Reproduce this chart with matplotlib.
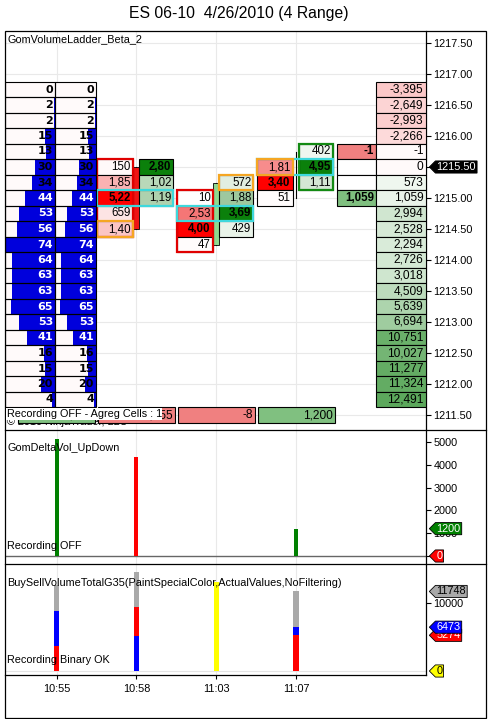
import numpy as np
import matplotlib
matplotlib.use("Agg")
import matplotlib.pyplot as plt
import matplotlib.transforms as mtransforms
from matplotlib.patches import Rectangle
from matplotlib.path import Path
from matplotlib.lines import Line2D
from matplotlib.ticker import FormatStrFormatter

plt.rcParams['font.family'] = ['Liberation Sans', 'DejaVu Sans']

# ---------------- data ----------------
TITLE = "ES 06-10  4/26/2010 (4 Range)"
bar_times = ["10:55", "10:58", "11:03", "11:07"]

ladder_prices = [1216.75, 1216.50, 1216.25, 1216.00, 1215.75, 1215.50, 1215.25,
                 1215.00, 1214.75, 1214.50, 1214.25, 1214.00, 1213.75, 1213.50,
                 1213.25, 1213.00, 1212.75, 1212.50, 1212.25, 1212.00, 1211.75]
ladder_vol_a = [0, 2, 2, 15, 13, 30, 34, 44, 53, 56, 74, 64, 63, 63, 65, 53, 41, 16, 15, 20, 4]
ladder_vol_b = [0, 2, 2, 15, 13, 30, 34, 44, 53, 56, 74, 64, 63, 63, 65, 53, 41, 16, 15, 20, 4]
ladder_cum_delta = [-3395, -2649, -2993, -2266, -1, 0, 573, 1059, 2994, 2528, 2294,
                    2726, 3018, 4509, 5639, 6694, 10751, 10027, 11277, 11324, 12491]

# footprint of visible bars
fp_bar_index = [1, 2, 3]
fp_sell_prices = [[1215.50, 1215.25, 1215.00, 1214.75, 1214.50],
                  [1215.00, 1214.75, 1214.50, 1214.25],
                  [1215.50, 1215.25, 1215.00]]
fp_sell_vol = [[150, 1850, 5220, 659, 1400],
               [10, 2530, 4000, 47],
               [1810, 3400, 51]]
fp_buy_prices = [[1215.50, 1215.25, 1215.00],
                 [1215.25, 1215.00, 1214.75, 1214.50],
                 [1215.75, 1215.50, 1215.25]]
fp_buy_vol = [[2800, 1020, 1190],
              [572, 1880, 3690, 429],
              [402, 4950, 1110]]
fp_open = [1215.50, 1214.25, 1215.50]
fp_high = [1215.50, 1215.25, 1215.75]
fp_low = [1214.50, 1214.25, 1215.00]
fp_close = [1214.50, 1215.25, 1215.50]
# highlighted groups: (side, top price, bottom price, colour)
fp_outline = [('sell', 1215.50, 1214.50, '#E00000'),
              ('sell', 1215.00, 1214.25, '#E00000'),
              ('buy', 1215.75, 1215.25, '#138A13')]

# current (forming) bar delta column
cur_prices = [1215.75, 1215.50, 1215.25, 1215.00]
cur_delta = [-1, 0, 0, 1059]

# per-bar values
bar_delta = [5130, -4355, -8, 1200]
bar_buy = [8820, 5100, 6596, 6473]
bar_sell = [3690, 9455, 6604, 5274]
bar_total = [12700, 14670, 13200, 11748]
bar_special = [False, False, True, False]
special_last = 0

# ---------------- layout ----------------
W, H = 488, 719
fig = plt.figure(figsize=(W / 100, H / 100), dpi=100)
fig.patch.set_facecolor('white')


def frect(x0, y0, x1, y1):
    return [x0 / W, 1 - y1 / H, (x1 - x0) / W, (y1 - y0) / H]


PANEL_L, PANEL_R = 5, 426
P1_TOP, P1_BOT = 31, 430
P2_TOP, P2_BOT = 430, 564
P3_TOP, P3_BOT = 564, 675

ax1 = fig.add_axes(frect(PANEL_L, P1_TOP, PANEL_R, P1_BOT))
ax2 = fig.add_axes(frect(PANEL_L, P2_TOP, PANEL_R, P2_BOT))
ax3 = fig.add_axes(frect(PANEL_L, P3_TOP, PANEL_R, P3_BOT))

BAR_PX, BAR0_PX = 79.8, 56.7


def dx(p):
    return p / BAR_PX


def xabs(p):
    return (p - BAR0_PX) / BAR_PX


XLIM = (xabs(PANEL_L), xabs(PANEL_R))
PRICE_REF, PRICE_REF_PX, PX_PER_PT = 1217.5, 43, 62
ax1.set_ylim(PRICE_REF - (P1_BOT - PRICE_REF_PX) / PX_PER_PT,
             PRICE_REF + (PRICE_REF_PX - P1_TOP) / PX_PER_PT)
ax2.set_ylim(-(P2_BOT - 556) / 0.0228, (556 - P2_TOP) / 0.0228)
ax3.set_ylim(-(P3_BOT - 671) / 0.00677, (671 - P3_TOP) / 0.00677)

GRID = '#E9E9E9'
FS = 7.8
for ax in (ax1, ax2, ax3):
    ax.set_xlim(*XLIM)
    ax.set_xticks(range(len(bar_times)))
    ax.xaxis.grid(True, color=GRID, lw=0.8)
    ax.set_axisbelow(True)
    for s in ('left', 'top', 'bottom'):
        ax.spines[s].set_visible(False)
    ax.spines['right'].set_linewidth(0.9)
    ax.yaxis.tick_right()
    ax.tick_params(axis='y', direction='out', length=3.8, width=0.8, pad=1.5,
                   labelsize=FS, colors='black')
ax1.tick_params(axis='x', length=0, labelbottom=False)
ax2.tick_params(axis='x', length=0, labelbottom=False)
ax1.set_yticks(np.arange(1211.5, 1217.51, 0.5))
ax1.yaxis.set_major_formatter(FormatStrFormatter('%.2f'))
ax1.yaxis.grid(True, color=GRID, lw=0.8)
ax2.set_yticks([0, 1000, 2000, 3000, 4000, 5000])
ax3.set_yticks([10000])
ax3.spines['bottom'].set_visible(True)
ax3.spines['bottom'].set_linewidth(0.9)
ax3.set_xticklabels(bar_times)
ax3.tick_params(axis='x', direction='out', length=3, width=0.8, pad=3.5, labelsize=FS)

ROW = 0.25
# ---------------- left ladder ----------------
LAD_A, LAD_B = (5, 55), (55, 96)
vmax = max(max(ladder_vol_a), max(ladder_vol_b))
for p, va, vb in zip(ladder_prices, ladder_vol_a, ladder_vol_b):
    for (x0p, x1p), v in ((LAD_A, va), (LAD_B, vb)):
        x0, x1 = xabs(x0p), xabs(x1p)
        ax1.add_patch(Rectangle((x0, p - ROW / 2), x1 - x0, ROW, fc='#FFFAFA', ec='none', zorder=5))
        w = (x1 - x0) * v / vmax
        ax1.add_patch(Rectangle((x1 - w, p - ROW / 2), w, ROW, fc='#0000DC', ec='none', zorder=5.1))
        ax1.add_patch(Rectangle((x0, p - ROW / 2), x1 - x0, ROW, fc='none', ec='black', lw=0.8, zorder=5.2))
        ax1.text(x1 - dx(2), p, str(v), ha='right', va='center', fontsize=8,
                 fontweight='bold', family='DejaVu Sans',
                 color='white' if v >= 40 else 'black', zorder=5.5)

# ---------------- right ladder ----------------
RLAD = (376, 426)
cd_max = max(abs(v) for v in ladder_cum_delta)


def rl_color(v):
    if v > 1:
        t = min(1.0, 0.05 + v / cd_max)
        return (1 - 0.64 * t, 1 - 0.34 * t, 1 - 0.64 * t)
    if v < -1:
        t = -v / cd_max
        return (1 - 0.05 * t, 1 - 0.8 * t, 1 - 0.8 * t)
    return '#FFFAFA'


for p, v in zip(ladder_prices, ladder_cum_delta):
    x0, x1 = xabs(RLAD[0]), xabs(RLAD[1])
    ax1.add_patch(Rectangle((x0, p - ROW / 2), x1 - x0, ROW, fc=rl_color(v), ec='black', lw=0.8, zorder=5))
    ax1.text(x1 - dx(2.5), p, f"{v:,}", ha='right', va='center', fontsize=8.6, color='black', zorder=5.5)

# ---------------- footprint ----------------
SELL_X, BUY_X, BODY_X = (-39, -3.5), (3, 37), (-3.5, 3)


def fp_color(side, t, is_max):
    if is_max:
        return '#FF0000' if side == 'sell' else '#0B800B'
    if side == 'sell':
        return (1 - 0.06 * t, 1 - 0.85 * t, 1 - 0.85 * t)
    return (1 - 0.75 * t, 1 - 0.42 * t, 1 - 0.75 * t)


def cell(b, xr, p, fc, text, bold, z=3):
    x0 = b + dx(xr[0])
    ax1.add_patch(Rectangle((x0, p - ROW / 2), dx(xr[1] - xr[0]), ROW, fc=fc, ec='black', lw=0.8, zorder=z))
    ax1.text(b + dx(xr[1] - 2), p, text, ha='right', va='center', fontsize=8.3,
             fontweight='bold' if bold else 'normal', color='black', zorder=z + 0.5)


def box(b, xr, ptop, pbot, color, lw=1.5, z=4):
    x0 = b + dx(xr[0])
    ax1.add_patch(Rectangle((x0, pbot - ROW / 2), dx(xr[1] - xr[0]), ptop - pbot + ROW,
                            fc='none', ec=color, lw=lw, zorder=z))


for k, b in enumerate(fp_bar_index):
    ax1.plot([b - dx(0.5)] * 2, [fp_low[k], fp_high[k]], color='black', lw=0.8, zorder=2)
    lo, hi = sorted((fp_open[k], fp_close[k]))
    up = fp_close[k] > fp_open[k]
    if hi > lo:
        ax1.add_patch(Rectangle((b + dx(BODY_X[0]), lo), dx(BODY_X[1] - BODY_X[0]), hi - lo,
                                fc='#8FD88F' if up else '#F01414', ec='black', lw=0.6, zorder=2.2))
    smax, bmax = max(fp_sell_vol[k]), max(fp_buy_vol[k])
    for p, v in zip(fp_sell_prices[k], fp_sell_vol[k]):
        cell(b, SELL_X, p, fp_color('sell', v / smax, v == smax), f"{v:,}"[:4], v == smax)
    for p, v in zip(fp_buy_prices[k], fp_buy_vol[k]):
        cell(b, BUY_X, p, fp_color('buy', v / bmax, v == bmax), f"{v:,}"[:4], v == bmax)
    side, ptop, pbot, col = fp_outline[k]
    box(b, SELL_X if side == 'sell' else BUY_X, ptop, pbot, col, lw=1.6, z=4)
    # point of control (max total volume row)
    tot = {}
    for p, v in zip(fp_sell_prices[k], fp_sell_vol[k]):
        tot[p] = tot.get(p, 0) + v
    for p, v in zip(fp_buy_prices[k], fp_buy_vol[k]):
        tot[p] = tot.get(p, 0) + v
    poc = max(tot, key=tot.get)
    box(b, (SELL_X[0], BUY_X[1]), poc, poc, '#3ED8DC', lw=1.6, z=4.2)
    c = fp_close[k]
    box(b, SELL_X if c in fp_sell_prices[k] else BUY_X, c, c, '#F5A623', lw=1.6, z=4.4)

# current bar delta column
for p, v in zip(cur_prices, cur_delta):
    fc = '#F08080' if v < 0 else ('#7FBF7F' if v > 0 else 'white')
    b = len(bar_times)
    cell(b, (-39, 0), p, fc, f"{v:,}" if v != 0 else "", True)

# bottom delta row
for i, d in enumerate(bar_delta):
    x0 = i + dx(-38.5)
    ax1.add_patch(Rectangle((x0, 1211.5 - 0.121), dx(77), 0.242,
                            fc='#80C080' if d > 0 else '#F08080', ec='black', lw=0.8, zorder=3))
    ax1.text(i + dx(36.5), 1211.5, f"{d:,}", ha='right', va='center', fontsize=8.6, zorder=3.5)

ax1.text((7 - PANEL_L) / (PANEL_R - PANEL_L), (P1_BOT - 425) / (P1_BOT - P1_TOP),
         '\u00a9 2010 NinjaTrader, LLC', transform=ax1.transAxes, va='baseline',
         fontsize=FS, zorder=1)

# ---------------- delta panel ----------------
for i, d in enumerate(bar_delta):
    ax2.bar(i, abs(d), width=dx(4), color='#008000' if d > 0 else '#FF0000', zorder=3)
ax2.axhline(0, color='#666666', lw=1, zorder=2)

# ---------------- buy/sell volume panel ----------------
VCOL = {'buy': '#0000FF', 'sell': '#FF0000'}
for i in range(len(bar_times)):
    w = dx(5.5)
    if bar_special[i]:
        ax3.bar(i, bar_total[i], width=w, color='#FFFF00', zorder=3)
        continue
    ax3.bar(i, bar_total[i], width=w, color='#A9A9A9', zorder=3)
    parts = sorted([('buy', bar_buy[i]), ('sell', bar_sell[i])], key=lambda t: -t[1])
    ax3.bar(i, parts[0][1], width=w, color=VCOL[parts[0][0]], zorder=3.1)
    ax3.bar(i, parts[1][1], width=w, color=VCOL[parts[1][0]], zorder=3.2)
ax3.axhline(0, color='#E4E4E4', lw=0.8, zorder=1)


# ---------------- flags ----------------
def flag_shape(x0, y0, width, height, mutation_size):
    pad = mutation_size * 0.1
    x0, y0 = x0 - pad, y0 - pad
    x1, y1 = x0 + width + 2 * pad, y0 + height + 2 * pad
    tip = (y1 - y0) / 2
    return Path([(x0, y0), (x1, y0), (x1, y1), (x0, y1), (x0 - tip, (y0 + y1) / 2), (x0, y0)],
                closed=True)


FLAG_X = 1 + (436.5 - PANEL_R) / (PANEL_R - PANEL_L)


def flag(ax, y, text, fc, tc, z=10):
    tr = mtransforms.blended_transform_factory(ax.transAxes, ax.transData)
    ax.text(FLAG_X, y, text, transform=tr, ha='left', va='center', fontsize=FS, color=tc,
            clip_on=False, zorder=z,
            bbox=dict(boxstyle=flag_shape, fc=fc, ec='black', lw=0.6))


flag(ax1, fp_close[-1], f"{fp_close[-1]:.2f}", 'black', 'white')
flag(ax2, bar_delta[-1] if bar_delta[-1] > 0 else 0, f"{max(bar_delta[-1], 0)}", '#008000', 'white')
flag(ax2, 0, f"{max(-bar_delta[-1], 0)}", '#FF0000', 'white', z=11)
flag(ax3, bar_total[-1], f"{bar_total[-1]}", '#A9A9A9', 'black')
flag(ax3, bar_sell[-1], f"{bar_sell[-1]}", '#FF0000', 'white', z=10)
flag(ax3, bar_buy[-1], f"{bar_buy[-1]}", '#0000FF', 'white', z=11)
flag(ax3, special_last, f"{special_last}", '#FFFF00', 'black', z=12)

# ---------------- frame & labels ----------------
fig.add_artist(Rectangle((PANEL_L / W, 1 - 718 / H), (485.5 - PANEL_L) / W, (718 - P1_TOP) / H,
                         transform=fig.transFigure, fill=False, ec='black', lw=0.9))
for yp in (P2_TOP, P3_TOP):
    fig.add_artist(Line2D([PANEL_L / W, 485.5 / W], [1 - yp / H] * 2, transform=fig.transFigure,
                          color='black', lw=0.9))


def ftext(x, y, s, **kw):
    fig.text(x / W, 1 - y / H, s, va='center', **kw)


ftext(239, 13.3, TITLE, ha='center', fontsize=11.3)
ftext(7, 39.5, 'GomVolumeLadder_Beta_2', fontsize=FS)
ftext(6.7, 414, 'Recording OFF - Agreg Cells : 1', fontsize=FS,
      bbox=dict(boxstyle='square,pad=0.05', fc='white', ec='none'))
ftext(7, 448, 'GomDeltaVol_UpDown', fontsize=FS)
ftext(7, 545.7, 'Recording OFF', fontsize=FS)
ftext(7, 582.7, 'BuySellVolumeTotalG35(PaintSpecialColor,ActualValues,NoFiltering)', fontsize=FS)
ftext(7, 660, 'Recording Binary OK', fontsize=FS)

fig.savefig('out.png', dpi=100)
